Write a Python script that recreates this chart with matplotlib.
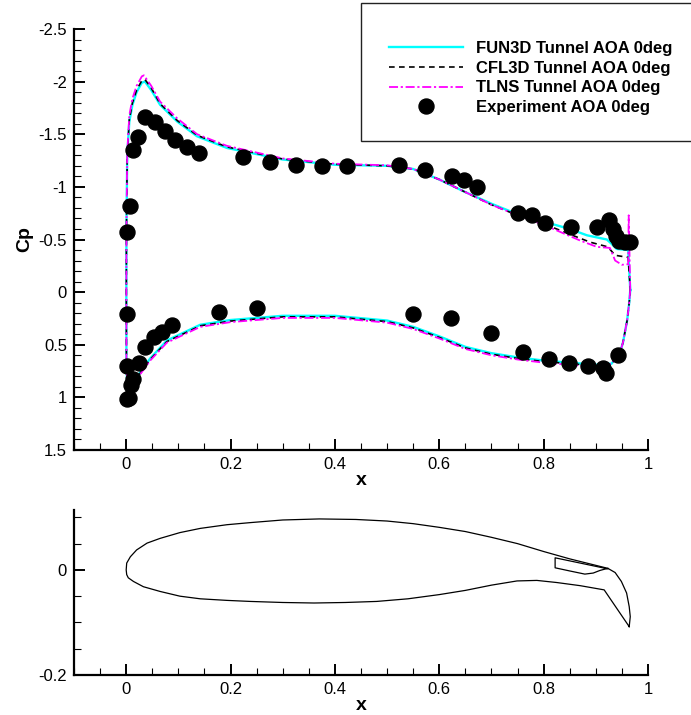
#!/usr/bin/env python3
"""
Pressure distribution over a two-element airfoil section, with the geometry below.
"""

import matplotlib
matplotlib.use('Agg')
import matplotlib.pyplot as plt
from matplotlib.patches import Rectangle
from matplotlib.ticker import MultipleLocator

plt.rcParams['font.family'] = ['Liberation Sans', 'DejaVu Sans']

# CFD curves, wrapped from lower trailing edge round the nose to the upper trailing edge
fun3d_x = [0.966, 0.964, 0.960, 0.952, 0.946, 0.93, 0.90, 0.85, 0.80, 0.75, 0.70, 0.65, 0.60, 0.55, 0.50,
           0.40, 0.30, 0.20, 0.142, 0.078, 0.046, 0.027, 0.012, 0.003, 0.0005, 0.0003, 0.0005, 0.002, 0.006,
           0.012, 0.02, 0.03, 0.036, 0.048, 0.065, 0.098, 0.136, 0.193, 0.30, 0.40, 0.50, 0.55, 0.60, 0.65,
           0.70, 0.75, 0.80, 0.85, 0.883, 0.921, 0.93, 0.94, 0.962, 0.966]
fun3d_cp = [-0.02, 0.10, 0.27, 0.48, 0.58, 0.68, 0.69, 0.67, 0.65, 0.62, 0.58, 0.52, 0.42, 0.33, 0.27,
            0.225, 0.225, 0.265, 0.31, 0.46, 0.63, 0.76, 0.88, 0.98, 0.70, 0.0, -0.60, -1.30, -1.62,
            -1.78, -1.90, -1.99, -2.00, -1.92, -1.78, -1.62, -1.48, -1.37, -1.26, -1.21, -1.20, -1.17, -1.07, -0.95,
            -0.84, -0.74, -0.67, -0.60, -0.54, -0.50, -0.46, -0.41, -0.40, -0.02]

cfl3d_x = [0.966, 0.964, 0.960, 0.952, 0.946, 0.93, 0.90, 0.85, 0.80, 0.75, 0.70, 0.65, 0.60, 0.55, 0.50,
           0.40, 0.30, 0.20, 0.142, 0.078, 0.046, 0.027, 0.012, 0.003, 0.0005, 0.0003, 0.0005, 0.002, 0.006,
           0.012, 0.02, 0.03, 0.036, 0.048, 0.065, 0.098, 0.136, 0.193, 0.30, 0.40, 0.50, 0.55, 0.60, 0.65,
           0.70, 0.75, 0.80, 0.85, 0.889, 0.923, 0.937, 0.962, 0.966]
cfl3d_cp = [-0.02, 0.10, 0.27, 0.48, 0.58, 0.68, 0.70, 0.68, 0.66, 0.63, 0.59, 0.53, 0.43, 0.34, 0.28,
            0.235, 0.235, 0.275, 0.32, 0.47, 0.64, 0.77, 0.88, 0.98, 0.70, 0.0, -0.60, -1.30, -1.64,
            -1.80, -1.92, -2.01, -2.02, -1.94, -1.79, -1.63, -1.49, -1.38, -1.265, -1.215, -1.20, -1.17, -1.07, -0.95,
            -0.83, -0.73, -0.65, -0.55, -0.475, -0.43, -0.35, -0.33, -0.02]

tlns_x = [0.966, 0.964, 0.960, 0.952, 0.946, 0.93, 0.90, 0.85, 0.80, 0.75, 0.70, 0.65, 0.60, 0.55, 0.50,
          0.40, 0.30, 0.20, 0.142, 0.078, 0.046, 0.027, 0.012, 0.003, 0.0005, 0.0003, 0.0005, 0.002, 0.006,
          0.012, 0.02, 0.03, 0.034, 0.048, 0.065, 0.098, 0.136, 0.193, 0.30, 0.40, 0.50, 0.55, 0.60, 0.65,
          0.70, 0.75, 0.80, 0.87, 0.902, 0.927, 0.937, 0.95, 0.962, 0.963, 0.966]
tlns_cp = [-0.02, 0.10, 0.27, 0.48, 0.58, 0.68, 0.71, 0.69, 0.67, 0.64, 0.60, 0.54, 0.44, 0.35, 0.29,
           0.245, 0.245, 0.285, 0.33, 0.48, 0.65, 0.78, 0.89, 0.98, 0.70, 0.0, -0.60, -1.32, -1.68,
           -1.84, -1.96, -2.05, -2.06, -1.96, -1.81, -1.65, -1.50, -1.39, -1.27, -1.22, -1.205, -1.17, -1.07, -0.95,
           -0.83, -0.73, -0.64, -0.49, -0.43, -0.42, -0.30, -0.26, -0.265, -0.73, -0.02]

# wind tunnel measurements
exp_x = [0.001, 0.002, 0.007, 0.013, 0.023, 0.036, 0.055, 0.075, 0.094, 0.117, 0.140,
         0.224, 0.276, 0.326, 0.376, 0.423, 0.523, 0.573, 0.624, 0.648, 0.672, 0.751, 0.778, 0.803,
         0.852, 0.902, 0.926, 0.932, 0.938, 0.945, 0.955, 0.965,
         0.002, 0.002, 0.006, 0.010, 0.013, 0.024, 0.036, 0.054, 0.069, 0.088, 0.177, 0.250,
         0.549, 0.623, 0.699, 0.761, 0.811, 0.849, 0.885, 0.914, 0.920, 0.943]
exp_cp = [0.21, -0.57, -0.82, -1.35, -1.47, -1.66, -1.62, -1.53, -1.45, -1.38, -1.32,
          -1.28, -1.24, -1.21, -1.20, -1.20, -1.21, -1.16, -1.10, -1.07, -1.00, -0.75, -0.73, -0.66,
          -0.62, -0.62, -0.69, -0.60, -0.53, -0.49, -0.48, -0.48,
          0.70, 1.02, 1.01, 0.88, 0.83, 0.67, 0.52, 0.43, 0.38, 0.31, 0.19, 0.15,
          0.21, 0.25, 0.39, 0.57, 0.64, 0.67, 0.70, 0.72, 0.77, 0.60]

# section geometry, from the flap tip over the upper surface and back along the lower one
geom_x = [0.964, 0.966, 0.964, 0.959, 0.949, 0.937, 0.923, 0.85, 0.80, 0.75, 0.70, 0.65, 0.60, 0.55, 0.50, 0.44,
          0.37, 0.30, 0.238, 0.193, 0.142, 0.103, 0.065, 0.04, 0.02, 0.008, 0.001, 0.0,
          0.001, 0.004, 0.014, 0.033, 0.065, 0.103, 0.142, 0.193, 0.238, 0.30, 0.36, 0.42, 0.48, 0.54, 0.60,
          0.65, 0.70, 0.749, 0.787, 0.825, 0.87, 0.916, 0.964]
geom_y = [-0.108, -0.089, -0.07, -0.044, -0.022, -0.005, 0.003, 0.021, 0.035, 0.05, 0.062, 0.073, 0.081, 0.088, 0.093, 0.096,
          0.097, 0.095, 0.09, 0.086, 0.079, 0.071, 0.06, 0.051, 0.038, 0.025, 0.013, 0.0,
          -0.009, -0.015, -0.022, -0.032, -0.041, -0.05, -0.055, -0.058, -0.06, -0.062, -0.063, -0.062, -0.06, -0.055, -0.047,
          -0.039, -0.029, -0.021, -0.02, -0.024, -0.03, -0.038, -0.108]
cove_x = [0.923, 0.822, 0.822, 0.85, 0.879, 0.895, 0.908, 0.923]
cove_y = [0.002, 0.023, 0.004, -0.002, -0.008, -0.006, -0.001, 0.003]

W, H = 691, 715


def make_axes(fig, left, right, top, bottom):
    """Axes placed from pixel edges of the picture."""
    ax = fig.add_axes([left / W, 1 - bottom / H, (right - left) / W, (bottom - top) / H])
    ax.spines['top'].set_visible(False)
    ax.spines['right'].set_visible(False)
    ax.spines['left'].set_linewidth(1.6)
    ax.spines['bottom'].set_linewidth(1.6)
    ax.tick_params(which='major', direction='in', length=8.2, width=1.4, labelsize=12, pad=5)
    ax.tick_params(which='minor', direction='in', length=5, width=0.8)
    ax.patch.set_alpha(0)
    return ax


fig = plt.figure(figsize=(W / 100, H / 100), dpi=100)

# Cp plot
ax1 = make_axes(fig, 74, 648, 29, 450)
ax1.plot(fun3d_x, fun3d_cp, color='#00ffff', linewidth=1.7, label='FUN3D Tunnel AOA 0deg')
ax1.plot(cfl3d_x, cfl3d_cp, color='black', linewidth=1.2, dashes=(3.4, 2.6), label='CFL3D Tunnel AOA 0deg')
ax1.plot(tlns_x, tlns_cp, color='#ff00ff', linewidth=1.3, dashes=(5, 1.5, 1.2, 1.5), label='TLNS Tunnel AOA 0deg')
ax1.plot(exp_x, exp_cp, linestyle='none', marker='o', markersize=10.8, color='black', clip_on=False,
         label='Experiment AOA 0deg')
ax1.set_xlim(-0.1, 1)
ax1.set_ylim(1.5, -2.5)
ax1.xaxis.set_major_locator(MultipleLocator(0.2))
ax1.xaxis.set_minor_locator(MultipleLocator(0.05))
ax1.yaxis.set_major_locator(MultipleLocator(0.5))
ax1.yaxis.set_minor_locator(MultipleLocator(0.1))
ax1.xaxis.set_major_formatter(lambda v, pos: f'{v:g}')
ax1.yaxis.set_major_formatter(lambda v, pos: f'{v:g}')
ax1.set_xlabel('x', fontsize=14, fontweight='bold', labelpad=0)
ax1.set_ylabel('Cp', fontsize=14, fontweight='bold', labelpad=4)

# legend sits in a box that runs off the right edge
fig.add_artist(Rectangle((361 / W, 1 - 141 / H), 340 / W, 138 / H, transform=fig.transFigure,
                         facecolor='white', edgecolor='#222222', linewidth=1.0))
leg = fig.legend(*ax1.get_legend_handles_labels(), loc='upper left', bbox_to_anchor=(389 / W, 1 - 41 / H),
                 frameon=False, prop={'weight': 'bold', 'size': 12}, handlelength=4.45,
                 handletextpad=0.78, labelspacing=0.28, borderpad=0, borderaxespad=0)

# section shape
ax2 = make_axes(fig, 74, 648, 510, 675)
ax2.plot(geom_x, geom_y, color='black', linewidth=0.9)
ax2.plot(cove_x, cove_y, color='black', linewidth=0.9)
ax2.set_xlim(-0.1, 1)
ax2.set_ylim(-0.2, 0.114)
ax2.xaxis.set_major_locator(MultipleLocator(0.2))
ax2.xaxis.set_minor_locator(MultipleLocator(0.05))
ax2.yaxis.set_major_locator(MultipleLocator(0.2))
ax2.yaxis.set_minor_locator(MultipleLocator(0.05))
ax2.xaxis.set_major_formatter(lambda v, pos: f'{v:g}')
ax2.yaxis.set_major_formatter(lambda v, pos: f'{v:g}')
ax2.set_xlabel('x', fontsize=14, fontweight='bold', labelpad=0)

fig.savefig('out.png', dpi=100)
